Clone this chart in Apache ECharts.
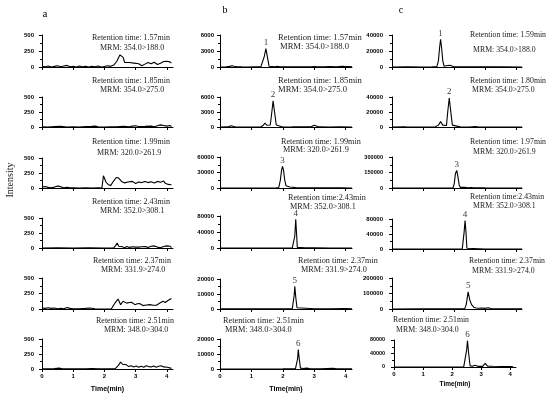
<!DOCTYPE html>
<html><head><meta charset="utf-8">
<script src="https://cdn.jsdelivr.net/npm/echarts@6/dist/echarts.min.js"></script>
<style>html,body{margin:0;padding:0;background:#fff}#c{width:550px;height:394px}</style>
</head><body><div id="c"></div>
<script>
// ---------- DATA ----------
const xTicks = [0, 1, 2, 3, 4];
const colLetters = ['a', 'b', 'c'];
const peakNames = ['1', '2', '3', '4', '5', '6'];
const yMaxA = [500, 500, 500, 500, 500, 500];
const yMaxB = [6000, 6000, 60000, 80000, 20000, 20000];
const yMaxC = [40000, 40000, 300000, 80000, 200000, 80000];
const rtTextA = ['Retention time: 1.57min','Retention time: 1.85min','Retention time: 1.99min','Retention time: 2.43min','Retention time: 2.37min','Retention time: 2.51min'];
const rtTextB = ['Retention time: 1.57min','Retention time: 1.85min','Retention time: 1.99min','Retention time:2.43min','Retention time: 2.37min','Retention time: 2.51min'];
const rtTextC = ['Retention time: 1.59min','Retention time: 1.80min','Retention time: 1.97min','Retention time:2.43min','Retention time: 2.37min','Retention time: 2.51min'];
const mrmText = ['MRM: 354.0>188.0','MRM: 354.0>275.0','MRM: 320.0>261.9','MRM: 352.0>308.1','MRM: 331.9>274.0','MRM: 348.0>304.0'];

// column a (blank)
const a1 = [[0,10],[0.1,5],[0.2,15],[0.3,0],[0.4,10],[0.5,20],[0.6,5],[0.7,15],[0.8,25],[0.9,5],[1.0,10],[1.1,0],[1.2,15],[1.3,5],[1.4,10],[1.5,0],[1.6,12],[1.7,5],[1.8,15],[1.9,0],[2.0,8],[2.1,20],[2.2,10],[2.3,30],[2.4,90],[2.5,190],[2.55,200],[2.6,150],[2.65,70],[2.7,50],[2.8,70],[2.85,40],[2.95,60],[3.0,30],[3.1,50],[3.2,20],[3.3,45],[3.4,70],[3.5,50],[3.6,75],[3.7,40],[3.8,60],[3.9,85],[3.95,55],[4.0,90],[4.05,60],[4.1,80],[4.15,60]];
const a2 = [[0,5],[0.2,0],[0.4,8],[0.6,12],[0.8,0],[1.0,5],[1.2,0],[1.4,6],[1.6,10],[1.7,15],[1.8,5],[2.0,0],[2.2,5],[2.4,2],[2.6,10],[2.8,5],[2.9,15],[3.0,20],[3.1,8],[3.3,10],[3.5,15],[3.6,5],[3.7,20],[3.8,35],[3.9,25],[4.0,15],[4.1,25],[4.15,10]];
const a3 = [[0,15],[0.1,25],[0.2,10],[0.3,5],[0.4,15],[0.5,35],[0.55,20],[0.7,5],[0.8,10],[0.85,25],[0.9,5],[0.95,20],[1.0,5],[1.2,0],[1.4,5],[1.6,0],[1.8,5],[1.92,0],[1.97,205],[2.05,100],[2.12,60],[2.2,40],[2.3,120],[2.38,175],[2.45,170],[2.55,110],[2.6,130],[2.65,85],[2.75,100],[2.8,80],[2.9,110],[3.0,75],[3.1,100],[3.2,90],[3.3,110],[3.4,90],[3.5,105],[3.6,85],[3.7,110],[3.8,95],[3.9,115],[3.95,80],[4.0,100],[4.05,60],[4.1,85],[4.15,55]];
const a4 = [[0,0],[0.5,2],[1.0,0],[1.5,3],[2.0,0],[2.3,2],[2.36,40],[2.41,83],[2.46,30],[2.52,10],[2.58,20],[2.65,5],[2.72,25],[2.8,10],[2.9,20],[3.0,15],[3.05,30],[3.1,15],[3.2,20],[3.3,25],[3.4,10],[3.5,30],[3.6,35],[3.7,15],[3.8,5],[3.85,30],[3.9,25],[4.0,35],[4.05,20],[4.1,30],[4.15,5]];
const a5 = [[0,15],[0.1,10],[0.2,20],[0.3,10],[0.4,15],[0.5,5],[0.6,10],[0.7,5],[0.8,25],[0.85,30],[0.9,10],[1.0,5],[1.2,5],[1.4,10],[1.5,15],[1.6,12],[1.7,5],[1.9,0],[2.1,0],[2.22,0],[2.33,90],[2.44,160],[2.52,70],[2.6,125],[2.71,95],[2.8,105],[2.87,108],[2.98,70],[3.05,85],[3.14,86],[3.24,55],[3.35,65],[3.46,70],[3.56,60],[3.67,60],[3.78,97],[3.88,124],[3.95,105],[3.99,108],[4.05,140],[4.1,160],[4.15,170]];
const a6 = [[0,5],[0.2,3],[0.4,8],[0.55,15],[0.65,3],[0.8,5],[1.0,2],[1.2,5],[1.4,3],[1.6,6],[1.8,2],[2.0,4],[2.2,2],[2.35,5],[2.45,60],[2.52,117],[2.58,80],[2.64,60],[2.7,72],[2.78,40],[2.86,55],[2.94,35],[3.02,50],[3.1,30],[3.18,45],[3.26,30],[3.34,55],[3.42,40],[3.5,35],[3.58,50],[3.66,30],[3.74,45],[3.82,55],[3.9,35],[3.96,50],[4.02,30],[4.08,25],[4.15,10]];
// column b
const b1 = [[0,0],[0.2,30],[0.3,120],[0.38,250],[0.45,150],[0.55,40],[0.7,20],[0.9,10],[1.1,20],[1.3,30],[1.36,200],[1.41,2000],[1.46,3470],[1.51,1800],[1.56,150],[1.62,40],[1.75,60],[1.82,120],[1.9,30],[2.1,20],[2.4,50],[2.6,30],[2.9,40],[3.0,100],[3.1,50],[3.3,30],[3.5,80],[3.7,60],[3.9,120],[4.0,70],[4.1,90],[4.2,40]];
const b2 = [[0,0],[0.25,20],[0.3,120],[0.35,260],[0.4,100],[0.5,10],[0.8,0],[1.1,10],[1.3,40],[1.37,300],[1.43,780],[1.49,350],[1.55,100],[1.6,400],[1.64,2500],[1.69,5220],[1.74,2800],[1.79,400],[1.85,50],[2.0,10],[2.3,20],[2.55,60],[2.6,120],[2.65,40],[2.9,30],[2.96,200],[3.0,330],[3.05,150],[3.15,20],[3.5,10],[3.8,20],[4.2,10]];
const b3 = [[0,0],[0.5,100],[1.0,0],[1.5,100],[1.8,200],[1.87,1000],[1.92,15000],[1.96,35000],[1.99,41900],[2.02,35000],[2.06,15000],[2.1,4500],[2.15,2500],[2.22,2000],[2.3,1500],[2.4,800],[2.6,600],[2.8,300],[3.0,500],[3.2,200],[3.5,300],[3.8,200],[4.2,100]];
const b4 = [[0,0],[1.0,0],[2.0,100],[2.3,200],[2.36,1000],[2.38,30000],[2.41,71700],[2.44,30000],[2.46,1500],[2.5,500],[2.7,300],[3.0,200],[3.5,100],[4.2,0]];
const b5 = [[0,100],[0.5,150],[1.0,100],[1.5,150],[2.0,100],[2.3,200],[2.33,1000],[2.36,9000],[2.38,15100],[2.41,8000],[2.45,800],[2.5,300],[3.0,200],[3.5,150],[4.0,300],[4.2,100]];
const b6 = [[0,0],[1.0,50],[2.0,100],[2.4,150],[2.44,800],[2.47,7000],[2.49,12900],[2.52,7000],[2.56,600],[2.65,300],[2.75,600],[2.85,250],[3.2,150],[3.6,400],[3.7,150],[4.2,100]];
// column c
const c1 = [[0,0],[0.5,100],[1.0,0],[1.3,100],[1.45,500],[1.5,8000],[1.54,25000],[1.57,34500],[1.6,25000],[1.64,8000],[1.68,1000],[1.75,1500],[1.8,1200],[1.87,2100],[1.93,600],[2.0,200],[2.5,100],[3.0,150],[3.5,100],[4.2,50]];
const c2 = [[0,0],[0.4,200],[0.5,0],[1.0,100],[1.4,200],[1.5,2500],[1.57,7400],[1.64,2500],[1.7,500],[1.76,2000],[1.8,20000],[1.85,38700],[1.9,20000],[1.95,2500],[2.0,500],[2.2,200],[2.5,100],[2.7,600],[2.8,100],[3.2,100],[3.6,0],[4.2,100]];
const c3 = [[0,0],[1.0,500],[1.8,500],[1.97,1500],[2.01,40000],[2.05,140000],[2.09,171000],[2.13,110000],[2.17,30000],[2.21,6000],[2.26,4000],[2.35,6000],[2.45,3000],[2.55,5000],[2.65,2000],[2.8,3000],[3.0,1000],[3.5,500],[4.2,0]];
const c4 = [[0,0],[1.0,0],[2.0,100],[2.27,200],[2.3,2000],[2.33,45000],[2.36,76000],[2.39,45000],[2.42,2000],[2.46,400],[3.0,200],[4.2,0]];
const c5 = [[0,0],[1.0,500],[2.0,1000],[2.35,2000],[2.4,30000],[2.46,110000],[2.51,60000],[2.57,28000],[2.64,12000],[2.72,6000],[2.8,5000],[2.86,12000],[2.92,6000],[3.0,4000],[3.11,8000],[3.2,3000],[3.5,2000],[4.0,1500],[4.2,1000]];
const c6 = [[0,0],[1.0,0],[2.0,200],[2.4,500],[2.46,3000],[2.5,50000],[2.53,78000],[2.57,40000],[2.62,3000],[2.7,2500],[2.79,5000],[2.88,2000],[3.05,2000],[3.14,10700],[3.22,2500],[3.4,2000],[3.7,1500],[4.0,1000],[4.1,500]];

const tracesA = [a1, a2, a3, a4, a5, a6];
const tracesB = [b1, b2, b3, b4, b5, b6];
const tracesC = [c1, c2, c3, c4, c5, c6];

// ---------- LAYOUT ----------
const cols = [
  {traces: tracesA, ymax: yMaxA, rt: rtTextA, left: [42,42,42,42,42,42], width: [131,131,131,131,131,131],
   top: [35,97,158,218,278,339], bottom: [67,127,188,248,309,369], labelMargin: 8, peaks: false,
   ann: [[92,38,100,48],[92,81,100,90],[92,142,97,153],[92,202,100,211],[93,261,101,270],[96,321,104,330]],
   annFont: [8,8,8,8,8,8], yLabFont: [6,6,6,6,6,6], nameFont: 7},
  {traces: tracesB, ymax: yMaxB, rt: rtTextB, left: [220,220,220,220,220,220], width: [132,132,132,132,132,132],
   top: [35,97,157,216,279,339], bottom: [67,127,188,248,309,369], labelMargin: 6, peaks: true,
   ann: [[278,38,280,47],[278,81,278,90],[281,142,283,150],[288,198,290,207],[298,261,301,270],[223,321,225,330]],
   annFont: [8.6,8.6,8.2,8.2,8.2,8.3], yLabFont: [6,6,6,6,6,6], nameFont: 7},
  {traces: tracesC, ymax: yMaxC, rt: rtTextC, left: [392,392,392,392,392,394], width: [130,130,130,130,130,122],
   top: [35,97,157,219,278,340], bottom: [67,127,188,249,309,367], labelMargin: 9, peaks: true,
   ann: [[470,35,473,50],[470,81,472,90],[470,142,473,152],[470,197,473,206],[469,261,472,271],[393,320,396,330]],
   annFont: [7.8,7.8,7.8,7.8,7.8,7.8], yLabFont: [6,6,5.6,6,6,5.4], nameFont: 6.5}
];
const letterPos = [[45,14],[225,10],[401,10]];

const SERIF = '"Liberation Serif", "Times New Roman", serif';
const SANS = '"Liberation Sans", Arial, sans-serif';

const option = {animation: false, backgroundColor: '#fff', grid: [], xAxis: [], yAxis: [], series: [], graphic: []};

cols.forEach((col, ci) => {
  for (let r = 0; r < 6; r++) {
    const idx = ci * 6 + r;
    const M = col.ymax[r];
    const isBottom = r === 5;
    option.grid.push({left: col.left[r], top: col.top[r], width: col.width[r], height: col.bottom[r] - col.top[r], containLabel: false});
    option.xAxis.push({
      type: 'value', gridIndex: idx, min: 0, max: 4.2,
      axisLine: {show: true, onZero: false, lineStyle: {color: '#000', width: 1}},
      axisTick: {show: true, length: 3, customValues: xTicks, lineStyle: {color: '#000'}},
      axisLabel: {show: isBottom, customValues: xTicks, fontSize: 6, fontWeight: 'bold', fontFamily: SANS, color: '#000', margin: 4},
      splitLine: {show: false},
      name: isBottom ? 'Time(min)' : '', nameLocation: 'middle', nameGap: ci === 2 ? 14 : 17,
      nameTextStyle: {fontSize: col.nameFont, fontWeight: 'bold', fontFamily: SANS, color: '#000'}
    });
    option.yAxis.push({
      type: 'value', gridIndex: idx, min: 0, max: M, interval: M / 2,
      axisLine: {show: true, lineStyle: {color: '#000', width: 1}},
      axisTick: {show: true, length: 3, lineStyle: {color: '#000'}},
      minorTick: {show: true, splitNumber: 2, length: 2, lineStyle: {color: '#000'}},
      axisLabel: {fontSize: col.yLabFont[r], fontWeight: 'bold', fontFamily: SANS, color: '#000', margin: col.labelMargin, formatter: v => String(v)},
      splitLine: {show: false}
    });
    const tr = col.traces[r];
    option.series.push({type: 'line', xAxisIndex: idx, yAxisIndex: idx, data: tr, showSymbol: false, symbol: 'none',
      lineStyle: {color: '#000', width: 1.1}, silent: true, clip: false});
    if (col.peaks) {
      let best = tr[0];
      tr.forEach(p => { if (p[1] > best[1]) best = p; });
      option.series.push({type: 'scatter', xAxisIndex: idx, yAxisIndex: idx, data: [best], symbolSize: 1,
        itemStyle: {color: 'rgba(0,0,0,0)'}, silent: true,
        label: {show: true, position: 'top', distance: 1, formatter: peakNames[r], fontFamily: SERIF, fontSize: 9, color: '#000'}});
    }
    const a = col.ann[r];
    option.graphic.push({type: 'text', silent: true, style: {text: col.rt[r], x: a[0], y: a[1], align: 'left', verticalAlign: 'middle', font: col.annFont[r] + 'px ' + SERIF, fill: '#222'}});
    option.graphic.push({type: 'text', silent: true, style: {text: mrmText[r], x: a[2], y: a[3], align: 'left', verticalAlign: 'middle', font: col.annFont[r] + 'px ' + SERIF, fill: '#222'}});
  }
  option.graphic.push({type: 'text', silent: true, style: {text: colLetters[ci], x: letterPos[ci][0], y: letterPos[ci][1], align: 'center', verticalAlign: 'middle', font: (ci === 0 ? 11 : 10) + 'px ' + SERIF, fill: '#000'}});
});
option.graphic.push({type: 'text', silent: true, x: 10, y: 180, rotation: Math.PI / 2,
  style: {text: 'Intensity', x: 0, y: 0, align: 'center', verticalAlign: 'middle', font: '10px ' + SERIF, fill: '#222'}});

const chart = echarts.init(document.getElementById('c'), null, {renderer: 'canvas'});
chart.setOption(option);
</script>
</body></html>
